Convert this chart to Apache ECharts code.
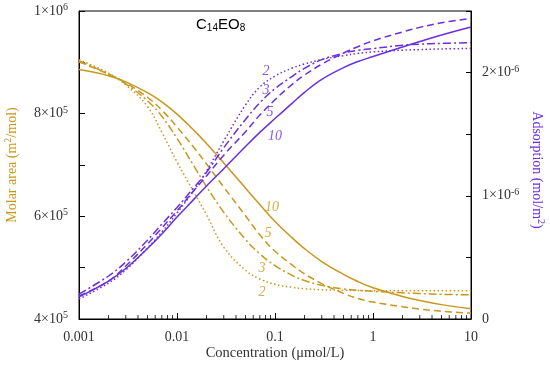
<!DOCTYPE html>
<html><head><meta charset="utf-8">
<script src="https://cdn.jsdelivr.net/npm/echarts@6/dist/echarts.min.js"></script>
<style>html,body{margin:0;padding:0;background:#fff}#c{width:550px;height:366px}</style>
</head><body><div id="c"></div>
<script>
// Concentration (µmol/L)
var conc = [0.001,0.002,0.003,0.005,0.007,0.01,0.015,0.02,0.03,0.05,0.07,0.1,0.15,0.2,0.3,0.5,0.7,1,2,3,5,10];
// Molar area (m²/mol), units of 1e5
var area10 = [8.86,8.74,8.62,8.41,8.23,7.99,7.67,7.42,7.04,6.55,6.23,5.90,5.58,5.37,5.12,4.87,4.73,4.61,4.44,4.36,4.28,4.20];
var area5  = [9.01,8.77,8.60,8.32,8.07,7.74,7.33,7.02,6.57,6.01,5.64,5.32,5.05,4.88,4.69,4.50,4.40,4.33,4.24,4.195,4.15,4.115];
var area3  = [9.03,8.77,8.58,8.25,7.95,7.52,6.97,6.58,6.08,5.55,5.27,5.04,4.85,4.75,4.655,4.585,4.56,4.54,4.51,4.495,4.48,4.47];
var area2  = [9.05,8.79,8.56,8.14,7.64,7.06,6.46,6.03,5.40,4.95,4.78,4.675,4.615,4.59,4.57,4.56,4.555,4.55,4.55,4.55,4.55,4.55];
// Adsorption (mol/m²), units of 1e-6
var ads10 = [0.179,0.308,0.410,0.572,0.690,0.828,0.975,1.080,1.220,1.400,1.515,1.627,1.752,1.840,1.945,2.040,2.090,2.130,2.208,2.252,2.305,2.370];
var ads5  = [0.187,0.308,0.430,0.609,0.739,0.877,1.047,1.161,1.330,1.520,1.655,1.780,1.905,1.980,2.068,2.160,2.210,2.258,2.330,2.367,2.405,2.440];
var ads3  = [0.203,0.349,0.463,0.640,0.770,0.905,1.070,1.190,1.390,1.620,1.755,1.870,1.970,2.035,2.105,2.158,2.180,2.195,2.222,2.231,2.237,2.243];
var ads2  = [0.162,0.292,0.398,0.576,0.706,0.860,1.047,1.201,1.445,1.737,1.883,1.972,2.037,2.070,2.106,2.138,2.155,2.168,2.182,2.187,2.192,2.196];
// curve labels (text, concentration, value)
var areaLabelText = ['10','5','3','2'];
var areaLabelConc = [0.0932,0.0848,0.0737,0.0737];
var areaLabelVal  = [6.18,5.675,4.99,4.526];
var adsLabelText = ['2','3','5','10'];
var adsLabelConc = [0.0809,0.0809,0.0889,0.1];
var adsLabelVal  = [2.013,1.859,1.680,1.485];
// tick labels
var leftTickValues = [400000,600000,800000,1000000];
var leftTickMant = ['4×10','6×10','8×10','1×10'];
var leftTickExp = ['5','5','5','6'];
var rightTickValues = [0,1,2];
var rightTickMant = ['0','1×10','2×10'];
var rightTickExp = ['','-6','-6'];
var decades = [0.001,0.01,0.1,1];
var minorMult = [2,3,4,5,6,7,8,9];

var GOLD='#C9971C', PURP='#6A2FE0';
var serif='"Liberation Serif","Times New Roman",serif';
var sans='"Liberation Sans",Arial,sans-serif';

var minorTicks=[];
decades.forEach(function(d){minorMult.forEach(function(m){minorTicks.push([+(d*m).toPrecision(3),4e5]);});});

function lineSeries(data,scale,yIdx,color,dash){
  return {type:'line',xAxisIndex:0,yAxisIndex:yIdx,data:conc.map(function(c,i){return [c,data[i]*scale];}),
    showSymbol:false,smooth:0.4,silent:true,lineStyle:{color:color,width:1.5,type:dash},z:3};
}
function labelSeries(texts,cs,vs,scale,yIdx,color){
  return {type:'scatter',xAxisIndex:0,yAxisIndex:yIdx,symbolSize:0,silent:true,
    data:texts.map(function(t,i){return {value:[cs[i],vs[i]*scale],name:t};}),
    label:{show:true,position:'inside',formatter:function(p){return p.name;},color:color,fontFamily:serif,fontStyle:'italic',fontSize:14}};
}
var DOT=[1.5,2.5], DASH=[7,4], DASHDOT=[8,3,2,3];

var rich={m:{fontFamily:serif,fontSize:14,color:'#333',lineHeight:17},
          e:{fontFamily:serif,fontSize:10,color:'#333',verticalAlign:'top',lineHeight:10}};

var option={
  animation:false,
  grid:{left:79,right:79,top:11,bottom:47,show:true,borderColor:'#000',borderWidth:1,backgroundColor:'transparent'},
  xAxis:{type:'log',logBase:10,min:0.001,max:10,
    axisLine:{lineStyle:{color:'#000',width:1}},
    axisTick:{inside:true,length:6,lineStyle:{color:'#000'}},
    splitLine:{show:false},
    axisLabel:{color:'#333',fontFamily:serif,fontSize:14,margin:11,
      formatter:function(v){return String(v);}}},
  yAxis:[
    {type:'value',min:400000,max:1000000,interval:100000,position:'left',
      axisLine:{show:true,lineStyle:{color:'#000'}},
      axisTick:{inside:true,length:6,lineStyle:{color:'#000'}},
      splitLine:{show:false},
      axisLabel:{margin:11,rich:rich,formatter:function(v){var i=leftTickValues.indexOf(v);return i<0?'':'{m|'+leftTickMant[i]+'}{e|'+leftTickExp[i]+'}';}}},
    {type:'value',min:0,max:2.5,interval:0.5,position:'right',
      axisLine:{show:true,lineStyle:{color:'#000'}},
      axisTick:{inside:true,length:5,lineStyle:{color:'#000'}},
      splitLine:{show:false},
      axisLabel:{margin:11,rich:rich,formatter:function(v){var i=rightTickValues.indexOf(Math.round(v*100)/100);return i<0?'':(rightTickExp[i]?'{m|'+rightTickMant[i]+'}{e|'+rightTickExp[i]+'}':'{m|'+rightTickMant[i]+'}');}}}
  ],
  series:[
    lineSeries(area10,1e5,0,GOLD,'solid'),
    lineSeries(area5,1e5,0,GOLD,DASH),
    lineSeries(area3,1e5,0,GOLD,DASHDOT),
    lineSeries(area2,1e5,0,GOLD,DOT),
    lineSeries(ads10,1,1,PURP,'solid'),
    lineSeries(ads5,1,1,PURP,DASH),
    lineSeries(ads3,1,1,PURP,DASHDOT),
    lineSeries(ads2,1,1,PURP,DOT),
    labelSeries(areaLabelText,areaLabelConc,areaLabelVal,1e5,0,GOLD),
    labelSeries(adsLabelText,adsLabelConc,adsLabelVal,1,1,PURP),
    {type:'scatter',xAxisIndex:0,yAxisIndex:0,data:minorTicks,symbol:'rect',symbolSize:[1,4],symbolOffset:[0,-2],
      itemStyle:{color:'#000'},silent:true,clip:false,z:4}
  ],
  graphic:[
    {type:'text',left:196,top:17,style:{text:'{a|C}{b|14}{a|EO}{b|8}',
      rich:{a:{fontFamily:sans,fontSize:15,fill:'#000',lineHeight:17},b:{fontFamily:sans,fontSize:10,fill:'#000',verticalAlign:'bottom',lineHeight:12}}}},
    {type:'text',x:12,y:165,rotation:Math.PI/2,style:{text:'{a|Molar area (m}{s|2}{a|/mol)}',align:'center',verticalAlign:'middle',
      rich:{a:{fontFamily:serif,fontSize:14,fill:GOLD,lineHeight:17},s:{fontFamily:serif,fontSize:10,fill:GOLD,verticalAlign:'top',lineHeight:10}}}},
    {type:'text',x:537,y:170,rotation:-Math.PI/2,style:{text:'{a|Adsorption (mol/m}{s|2}{a|)}',align:'center',verticalAlign:'middle',
      rich:{a:{fontFamily:serif,fontSize:14,fill:PURP,lineHeight:17},s:{fontFamily:serif,fontSize:10,fill:PURP,verticalAlign:'top',lineHeight:10}}}},
    {type:'text',x:275,y:353,style:{text:'Concentration (μmol/L)',align:'center',verticalAlign:'middle',fontFamily:serif,fontSize:14.5,fill:'#333'}}
  ]
};
var chart=echarts.init(document.getElementById('c'),null,{renderer:'canvas'});
window.chart=chart;
chart.setOption(option);
</script></body></html>
